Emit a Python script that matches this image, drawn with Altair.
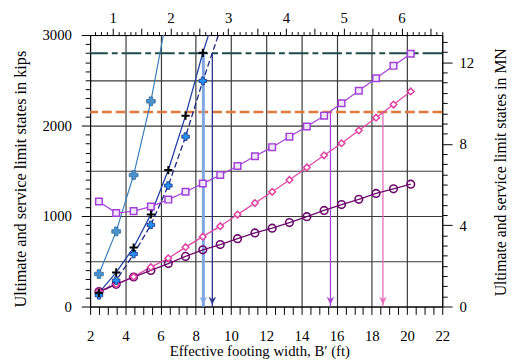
import altair as alt
import pandas as pd

# ---------------- data ----------------
# effective footing widths (ft) at which the curves are computed
b_ft = [2.5, 3.48, 4.47, 5.45, 6.44, 7.42, 8.40, 9.39, 10.37, 11.36,
        12.34, 13.32, 14.31, 15.29, 16.28, 17.26, 18.24, 19.23, 20.21]

# light-blue "+" series (steep curve); last value only continues the line off the top
steel_q = [359, 830, 1453, 2268]
steel_line_q = [359, 830, 1453, 2268, 3290]

# black "+" markers with solid navy curve
black_q = [150, 377, 652, 1018, 1508, 2109, 2804]
black_line_q = [150, 377, 652, 1018, 1508, 2109, 2804, 3400]

# blue "+" markers with dashed navy curve
blue_q = [124, 287, 580, 902, 1337, 1877, 2493]
blue_line_q = [124, 287, 580, 902, 1337, 1877, 2493, 3060]

# purple squares
square_q = [1160, 1033, 1054, 1105, 1182, 1268, 1359, 1453, 1553, 1660,
            1761, 1877, 1989, 2109, 2247, 2385, 2522, 2660, 2793]
# pink diamonds
diamond_q = [165, 245, 330, 435, 533, 656, 772, 888, 1016, 1143,
             1268, 1399, 1537, 1671, 1804, 1946, 2087, 2232, 2377]
# dark purple circles
circle_q = [165, 245, 326, 399, 475, 554, 627, 685, 750, 813,
            866, 928, 993, 1062, 1127, 1185, 1250, 1301, 1352]

# limit lines (kips)
ultimate_limit = [2800]
service_limit = [2150]

# vertical arrows: footing width (ft) and starting load (kips)
arrow_b = [8.43, 8.94, 15.65, 18.63]
arrow_q = [2800, 2800, 2150, 2150]
arrow_colors = ["#7fa6e2", "#26338f", "#a545d8", "#e66ab8"]
arrow_widths = [3, 1.3, 1.3, 1.3]

# axes
x_ticks = [2 + 0.5 * i for i in range(41)]
y_ticks = list(range(0, 3001, 100))
m_ticks = [round(0.7 + 0.1 * i, 1) for i in range(61)]
mn_ticks = [0.5 * i for i in range(27)]
FT_PER_M = 3.2808
KIPS_PER_MN = 224.81

FONT = "Liberation Serif"

xs = alt.Scale(domain=[2, 22], nice=False, zero=False)
ys = alt.Scale(domain=[0, 3000], nice=False, zero=False)

xaxis = alt.Axis(
    orient="bottom", values=x_ticks,
    title="Effective footing width, B\u2032 (ft)",
    labelExpr="datum.value % 2 == 0 ? format(datum.value, 'd') : ''",
    labelFlush=False, labelOverlap=False,
    tickSize=8, labelPadding=15,
    grid=True, gridColor="#3a3a3a", gridWidth=1.2,
    gridOpacity={"condition": {"test": "datum.value % 2 == 0 && datum.value > 2 && datum.value < 22", "value": 1}, "value": 0},
    titleX=172, titleY=50, titleAlign="center", titleBaseline="alphabetic",
    titleFontSize=15,
)
yaxis = alt.Axis(
    orient="left", values=y_ticks,
    title="Ultimate and service limit states in kips",
    labelExpr="datum.value % 1000 == 0 ? format(datum.value, 'd') : ''",
    labelFlush=False, labelOverlap=False,
    tickSize={"condition": {"test": "datum.value % 1000 == 0", "value": 9}, "value": 5},
    labelPadding=10,
    grid=True, gridColor="#3a3a3a", gridWidth=1.2,
    gridOpacity={"condition": {"test": "datum.value % 500 == 0 && datum.value > 0 && datum.value < 3000", "value": 1}, "value": 0},
    titleX=-71, titleY=146, titleAngle=270, titleAlign="center", titleBaseline="middle",
    titleFontSize=16.5,
)
top_axis = alt.Axis(
    orient="top", values=m_ticks, title="",
    labelExpr="abs(datum.value - round(datum.value)) < 0.001 ? format(datum.value, 'd') : ''",
    labelFlush=False, labelOverlap=False,
    tickSize={"condition": {"test": "abs(datum.value*2 - round(datum.value*2)) < 0.001", "value": 7}, "value": 3.5},
    labelPadding=3, grid=False,
)
right_axis = alt.Axis(
    orient="right", values=mn_ticks,
    title="Ultimate and service limit states in MN",
    labelExpr="datum.value % 4 == 0 ? format(datum.value, 'd') : ''",
    labelFlush=False, labelOverlap=False,
    tickSize={"condition": {"test": "datum.value % 4 == 0", "value": 10}, "value": 5},
    labelPadding=7, grid=False,
    titleX=59, titleY=139, titleAngle=270, titleAlign="center", titleBaseline="middle",
    titleFontSize=16,
)

X = alt.X("x:Q", scale=xs, axis=xaxis)
Y = alt.Y("y:Q", scale=ys, axis=yaxis)


def df(xv, yv):
    return pd.DataFrame({"x": xv, "y": yv})


def line(xv, yv, color, width=1.3, dash=None):
    kw = dict(color=color, strokeWidth=width, clip=True)
    if dash:
        kw["strokeDash"] = dash
    return alt.Chart(df(xv, yv)).mark_line(**kw).encode(x=X, y=Y)


def pts(xv, yv, shape, size, stroke, fill=None, sw=1.5, opacity=1):
    kw = dict(shape=shape, size=size, stroke=stroke, strokeWidth=sw, clip=True, opacity=opacity)
    if fill:
        kw["fill"] = fill
        kw["filled"] = True
    else:
        kw["filled"] = False
    return alt.Chart(df(xv, yv)).mark_point(**kw).encode(x=X, y=Y)


layers = []
# limit lines
layers.append(alt.Chart(pd.DataFrame({"y": ultimate_limit})).mark_rule(
    color="#1f4b4b", strokeWidth=2, strokeDash=[20, 4, 6, 4]).encode(y=Y))
layers.append(alt.Chart(pd.DataFrame({"y": service_limit})).mark_rule(
    color="#e07a3c", strokeWidth=2.5, strokeDash=[10, 4]).encode(y=Y))

# vertical arrows
for b, q, c, w in zip(arrow_b, arrow_q, arrow_colors, arrow_widths):
    a = pd.DataFrame({"x": [b], "y": [q], "y0": [0]})
    layers.append(alt.Chart(a).mark_rule(color=c, strokeWidth=w).encode(
        x=X, y=Y, y2="y0:Q"))
    layers.append(alt.Chart(a).mark_point(
        shape="M-1,-1L0,1L1,-1L0,-0.35Z", size=45, filled=True, fill=c, stroke=c,
        strokeWidth=0.5, opacity=1, yOffset=-6).encode(x=X, y=alt.Y("y0:Q", scale=ys, axis=yaxis)))

# curves
layers.append(line(b_ft[:5], steel_line_q, "#3b7fb8", 1.2))
layers.append(line(b_ft[:8], black_line_q, "#2342a3", 1.3))
layers.append(line(b_ft[:8], blue_line_q, "#1c2580", 1.3, [6, 3]))
layers.append(line(b_ft, square_q, "#a646d9", 1.3))
layers.append(line(b_ft, diamond_q, "#e048a8", 1.3))
layers.append(line(b_ft, circle_q, "#6d0a6d", 1.3))

# markers
layers.append(pts(b_ft, circle_q, "circle", 60, "#6d0a6d", None, 1.6))
layers.append(pts(b_ft, diamond_q, "diamond", 45, "#e040a0", "#ffffff", 1.5))
layers.append(pts(b_ft, square_q, "square", 45, "#a040d8", "#f3e6fb", 1.5))
layers.append(pts(b_ft[:4], steel_q, "cross", 80, "#2f6e9f", "#4a92cc", 0.8))
layers.append(pts(b_ft[:7], blue_q, "cross", 60, "#1a2a80", "#2392f2", 0.8))
layers.append(pts(b_ft[:7], black_q, "M-1,0L1,0M0,-1L0,1", 70, "#000000", None, 2))

main = alt.layer(*layers)

ax_df = pd.DataFrame({"m": [2 / FT_PER_M, 22 / FT_PER_M], "mn": [0, 3000 / KIPS_PER_MN]})
axis_layer = alt.Chart(ax_df).mark_point(opacity=0).encode(
    x=alt.X("m:Q", scale=alt.Scale(domain=[2 / FT_PER_M, 22 / FT_PER_M], nice=False, zero=False), axis=top_axis),
    y=alt.Y("mn:Q", scale=alt.Scale(domain=[0, 3000 / KIPS_PER_MN], nice=False, zero=False), axis=right_axis),
)

chart = alt.layer(main, axis_layer).resolve_scale(x="independent", y="independent").properties(
    width=358, height=276,
    autosize=alt.AutoSizeParams(type="none"),
    padding={"left": 83.5, "top": 24.5, "right": 77, "bottom": 60},
).configure_view(stroke="black", strokeWidth=1).configure_axis(
    labelFont=FONT, titleFont=FONT, labelFontSize=15,
    labelColor="black", titleColor="black", titleFontWeight="normal",
    domainColor="black", tickColor="black", domainWidth=1, tickWidth=1,
)

chart.save("out.html", embed_options={"renderer": "svg", "actions": False})
